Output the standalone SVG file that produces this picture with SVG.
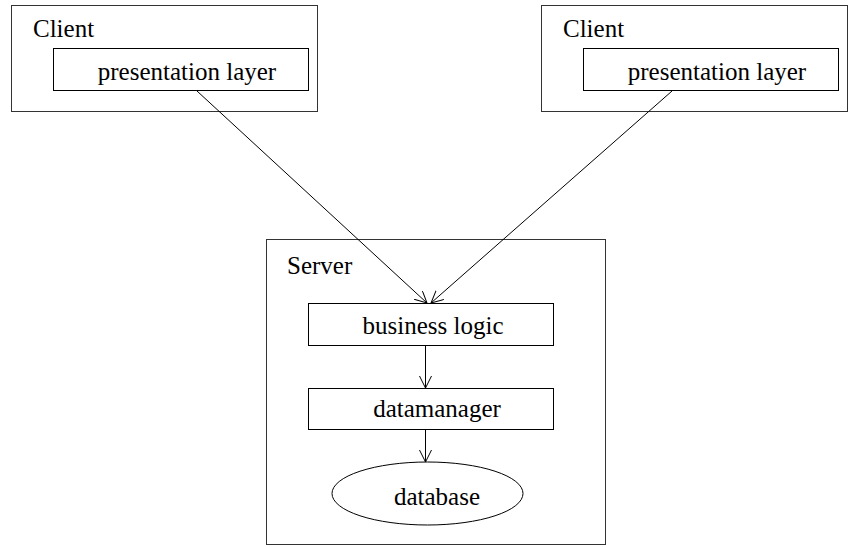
<svg xmlns="http://www.w3.org/2000/svg" width="849" height="547" viewBox="0 0 849 547">
<style>
.box,ellipse{fill:none;stroke:#000;stroke-width:1}
.outer{stroke:#333}
text{font-family:"Liberation Serif","Times New Roman",serif;font-size:25px;fill:#000}
.c{text-anchor:middle}
line{stroke:#000;stroke-width:1}
</style>
<defs>
<marker id="v" markerWidth="14" markerHeight="14" refX="12" refY="6" orient="auto" markerUnits="userSpaceOnUse">
<path d="M0,0 L12,6 L0,12" fill="none" stroke="#000" stroke-width="1"/>
</marker>
</defs>
<rect width="849" height="547" fill="#fff"/>
<g id="client1">
<rect class="box outer" x="11.5" y="5.5" width="306" height="106"/>
<text x="33" y="37">Client</text>
<g id="pres1">
<rect class="box" x="53.5" y="48.5" width="255" height="42"/>
<text class="c" x="187" y="80">presentation layer</text>
</g>
</g>
<g id="client2">
<rect class="box outer" x="541.5" y="5.5" width="306" height="106"/>
<text x="563" y="37">Client</text>
<g id="pres2">
<rect class="box" x="583.5" y="48.5" width="255" height="42"/>
<text class="c" x="717" y="80">presentation layer</text>
</g>
</g>
<g id="server">
<rect class="box outer" x="266.5" y="239.5" width="339" height="305"/>
<text x="287" y="274">Server</text>
<g id="business">
<rect class="box" x="308.5" y="303.5" width="245" height="42"/>
<text class="c" x="433" y="334">business logic</text>
</g>
<g id="datamanager">
<rect class="box" x="308.5" y="388.5" width="245" height="41"/>
<text class="c" x="437" y="417">datamanager</text>
</g>
<g id="database">
<ellipse cx="427.5" cy="493.5" rx="95.5" ry="31.5"/>
<text class="c" x="437" y="505">database</text>
</g>
</g>
<g id="connectors">
<line x1="197" y1="91" x2="427" y2="303" marker-end="url(#v)"/>
<line x1="672" y1="91" x2="431" y2="303" marker-end="url(#v)"/>
<line x1="425.5" y1="346" x2="425.5" y2="388" marker-end="url(#v)"/>
<line x1="425.5" y1="430" x2="425.5" y2="462" marker-end="url(#v)"/>
</g>
</svg>
